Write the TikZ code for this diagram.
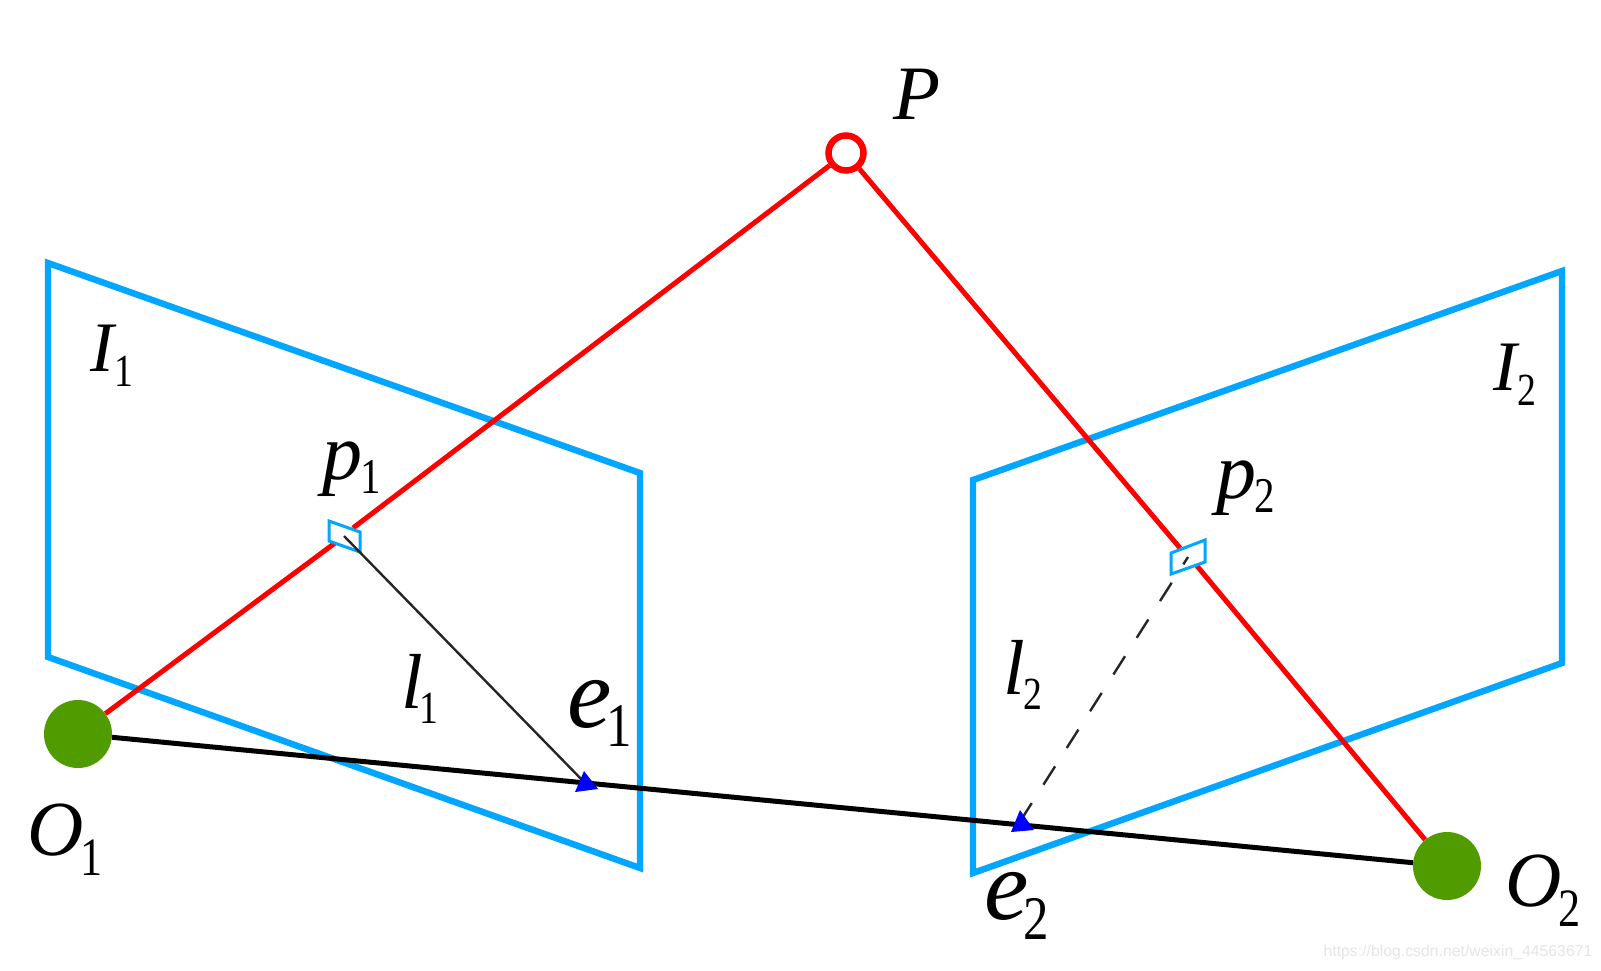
\documentclass[tikz,border=0pt]{standalone}
\usepackage{fontspec}
\setmainfont{Liberation Serif}
\newfontfamily\wmfont{Liberation Sans}
\newfontfamily\subfont[FakeStretch=0.82]{Liberation Serif}
\definecolor{planeblue}{RGB}{0,166,255}
\definecolor{camgreen}{RGB}{80,155,0}
\definecolor{ptred}{RGB}{255,0,0}
\definecolor{tipblue}{RGB}{0,0,255}
% size, letter, subscript, kern, subscript size, drop
\newcommand{\lbl}[6]{\fontsize{#1}{#1}\selectfont\itshape #2\hspace{#4pt}\raisebox{-#6pt}{\subfont\fontsize{#5}{#5}\selectfont\upshape #3}}
\tikzset{
  plane/.style={draw=planeblue,line width=6.4pt,line join=miter},
  smallplane/.style={draw=planeblue,line width=3pt,fill=none},
  ray/.style={draw=ptred,line width=5pt},
  base/.style={draw=black,line width=5pt},
  epi/.style={draw=black!85,line width=2.4pt},
  tip/.style={fill=tipblue,draw=none},
  cam/.style={circle,fill=camgreen,draw=none,minimum size=68pt,inner sep=0pt},
  pt/.style={circle,fill=white,draw=ptred,line width=6.5pt,minimum size=35pt,inner sep=0pt},
  txt/.style={inner sep=0pt,text=black}
}
\begin{document}
\begin{tikzpicture}[x=1pt,y=-1pt]
\useasboundingbox (0,0) rectangle (1601,970);
\fill[white] (0,0) rectangle (1601,970);
% planes
\draw[plane] (48,263) -- (640,473) -- (640,868) -- (48,657) -- cycle;
\draw[plane] (973,480) -- (1562,271) -- (1562,663) -- (973,873) -- cycle;
% nodes
\node[cam] (O1) at (78,734) {};
\node[cam] (O2) at (1447,866) {};
\node[pt] (P) at (846,153) {};
\coordinate (r1a) at (353,528);
\coordinate (r1b) at (335,543);
\coordinate (r2a) at (1180,548);
\coordinate (r2b) at (1197,566);
\coordinate (a1) at (344,536);
\coordinate (e1) at (586,784);
\coordinate (a2) at (1188,557);
\coordinate (e2) at (1021,820);
% rays
\draw[ray] (P) -- (r1a);
\draw[ray] (r1b) -- (O1);
\draw[ray] (P) -- (r2a);
\draw[ray] (r2b) -- (O2);
% baseline
\draw[base] (O1) -- (O2);
% small rectangles
\draw[smallplane] (329,521) -- (360,532) -- (360,552) -- (329,541) -- cycle;
\draw[smallplane] (1171,553) -- (1205,540) -- (1205,562) -- (1171,574) -- cycle;
% epipolar lines
\draw[epi] (a1) -- (e1);
\draw[epi,dash pattern=on 21.7pt off 21.8pt,dash phase=13pt] (a2) -- (e2);
% arrow tips
\fill[tip] (584,771) -- (598,789) -- (575,792) -- cycle;
\fill[tip] (1020,810) -- (1034,830) -- (1011,832) -- cycle;
% labels
\node[txt] (lP) at (917,94) {\fontsize{77}{77}\selectfont\itshape P};
\node[txt] (lI1) at (112,356) {\lbl{71}{I}{1}{1}{46}{15}};
\node[txt] (lI2) at (1515,375) {\lbl{71}{I}{2}{1}{46}{15}};
\node[txt] (lp1) at (352,469) {\lbl{80}{p}{1}{-2}{50}{14}};
\node[txt] (lp2) at (1246,488) {\lbl{80}{p}{2}{-2}{50}{14}};
\node[txt] (ll1) at (420,689) {\lbl{78}{l}{1}{-3}{46}{15}};
\node[txt] (ll2) at (1023,675) {\lbl{78}{l}{2}{-2}{46}{15}};
\node[txt] (le1) at (600,713) {\lbl{100}{e}{1}{-5}{62}{19}};
\node[txt] (le2) at (1017,906) {\lbl{100}{e}{2}{-5}{62}{20}};
\node[txt] (lO1) at (65,840) {\lbl{78}{O}{1}{-3}{54}{20}};
\node[txt] (lO2) at (1543,891) {\lbl{78}{O}{2}{-3}{54}{20}};
\node[txt,text=black!10] (wm) at (1458,952) {\wmfont\fontsize{15.8}{15.8}\selectfont https://blog.csdn.net/weixin\_44563671};
\end{tikzpicture}
\end{document}
